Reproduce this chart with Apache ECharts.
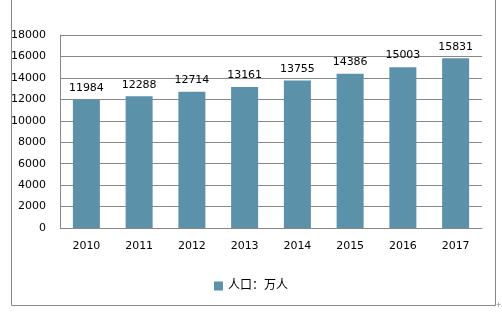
<!DOCTYPE html>
<html><head><meta charset="utf-8">
<script src="https://cdn.jsdelivr.net/npm/echarts@6/dist/echarts.min.js"></script>
<style>html,body{margin:0;padding:0;background:#fff}#c{width:502px;height:313px}</style>
</head><body><div id="c"></div>
<script>
var categories = ['2010','2011','2012','2013','2014','2015','2016','2017'];
var population = [11984, 12288, 12714, 13161, 13755, 14386, 15003, 15831];
var seriesName = '人口：万人';
var font = 'Verdana, "DejaVu Sans", "Noto Sans CJK SC", sans-serif';
var chart = echarts.init(document.getElementById('c'), null, {renderer:'canvas'});
chart.setOption({
  animation: false,
  grid: {left: 60, top: 35, width: 422, height: 193, containLabel: false},
  graphic: [
    {type:'rect', shape:{x:11.5, y:-5, width:484, height:310.5}, style:{fill:'none', stroke:'#888', lineWidth:1}, silent:true},
    {type:'text', left: 496, top: 301, style:{text:'+', fill:'#888', font:'9px sans-serif'}}
  ],
  legend: {
    bottom: 16, left: 'center', itemWidth: 9, itemHeight: 9, itemGap: 4,
    icon: 'rect',
    textStyle: {fontFamily: font, fontSize: 12, color: '#000'},
    data: [seriesName]
  },
  xAxis: {
    type: 'category', data: categories,
    axisLine: {lineStyle: {color: '#888'}},
    axisTick: {show: false},
    axisLabel: {color: '#000', fontFamily: font, fontSize: 11, margin: 13}
  },
  yAxis: {
    type: 'value', min: 0, max: 18000, interval: 2000,
    axisLine: {show: true, lineStyle: {color: '#888'}},
    axisTick: {show: false},
    splitLine: {lineStyle: {color: '#888'}},
    axisLabel: {color: '#000', fontFamily: font, fontSize: 11, margin: 14, formatter: function(v){return String(v);}}
  },
  series: [{
    name: seriesName, type: 'bar', data: population,
    barWidth: 27,
    itemStyle: {color: '#5B91A9'},
    label: {show: true, position: 'top', distance: 6, color: '#000', fontFamily: font, fontSize: 11}
  }]
});
</script></body></html>
